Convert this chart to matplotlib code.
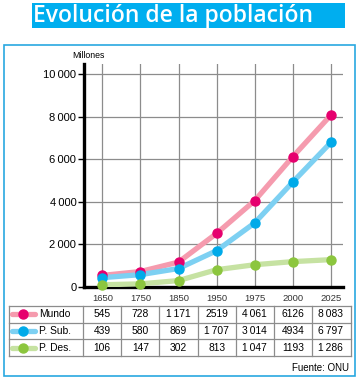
import matplotlib
matplotlib.use("Agg")
import matplotlib.pyplot as plt
from matplotlib.patches import Rectangle

# Data
years = ["1650", "1750", "1850", "1950", "1975", "2000", "2025"]
mundo = [545, 728, 1171, 2519, 4061, 6126, 8083]
p_sub = [439, 580, 869, 1707, 3014, 4934, 6797]
p_des = [106, 147, 302, 813, 1047, 1193, 1286]
series_names = ["Mundo", "P. Sub.", "P. Des."]
# table text as printed in the source
mundo_txt = ["545", "728", "1\u2009171", "2519", "4\u2009061", "6126", "8\u2009083"]
p_sub_txt = ["439", "580", "869", "1\u2009707", "3\u2009014", "4934", "6\u2009797"]
p_des_txt = ["106", "147", "302", "813", "1\u2009047", "1193", "1\u2009286"]
yticks = [0, 2000, 4000, 6000, 8000, 10000]
ytick_labels = ["0", "2\u2009000", "4\u2009000", "6\u2009000", "8\u2009000", "10\u2009000"]

dot_colors = ["#e6006e", "#00aae9", "#8cc63e"]
line_colors = ["#f59bae", "#7dd0f2", "#c6e2a2"]

W, H = 358, 380
plt.rcParams['font.family'] = ['Liberation Sans', 'DejaVu Sans']

fig = plt.figure(figsize=(W / 100, H / 100), dpi=100)

def fbox(x0, y0, x1, y1):
    # pixel box (top-left origin) -> figure rect
    return [x0 / W, 1 - y1 / H, (x1 - x0) / W, (y1 - y0) / H]

# outer frame and title bar
fig.patches.append(Rectangle((4 / W, 1 - 376 / H), 351 / W, 331 / H, transform=fig.transFigure,
                             fill=False, edgecolor="#29a8e0", lw=1.2))
fig.patches.append(Rectangle((32 / W, 1 - 28 / H), 313 / W, 25 / H, transform=fig.transFigure,
                             facecolor="#00aeef", edgecolor="none"))
fig.text(33 / W, 1 - 16.5 / H, "Evolución de la población", color="white", fontsize=16.5,
         fontweight=600, family="Open Sans", ha="left", va="center")

# category positions in pixels
X0, DX = 102.3, 38.1
def px2x(px):
    return (px - X0) / DX

ax = fig.add_axes(fbox(84, 64, 343, 287))
ax.set_xlim(px2x(84), px2x(343))
ax.set_ylim(0, 10484)
xs = list(range(len(years)))

for y in yticks[1:]:
    ax.axhline(y, color="#8c8c8c", lw=0.9, zorder=1)
for x in xs:
    ax.axvline(x, color="#8c8c8c", lw=0.9, zorder=1)

for vals, lc, dc in zip([mundo, p_sub, p_des], line_colors, dot_colors):
    ax.plot(xs, vals, color=lc, lw=3.8, zorder=3, solid_capstyle="round")
    ax.plot(xs, vals, "o", color=dc, ms=6.5, zorder=4, clip_on=False)

for s in ["top", "right"]:
    ax.spines[s].set_visible(False)
for s in ["left", "bottom"]:
    ax.spines[s].set_linewidth(2.4)
    ax.spines[s].set_color("black")
    ax.spines[s].set_zorder(2)

ax.set_yticks(yticks)
ax.set_yticklabels(ytick_labels)
ax.tick_params(axis="y", length=4, width=1, pad=1.5, labelsize=8)
ax.set_xticks(xs)
ax.set_xticklabels(years)
ax.tick_params(axis="x", length=0, pad=5, labelsize=6.8, labelcolor="#333333")

fig.text(88 / W, 1 - 55 / H, "Millones", fontsize=6.3, ha="center", va="center")

# table
tab = fig.add_axes(fbox(9, 306, 351, 356))
tab.set_xlim(px2x(9), px2x(351))
tab.set_ylim(3, 0)
tab.axis("off")
gc = "#8c8c8c"
left, right = px2x(9), px2x(351)
for r in range(4):
    tab.plot([left, right], [r, r], color=gc, lw=0.9, clip_on=False)
for c in [left] + [x - 0.5 for x in xs] + [right]:
    tab.plot([c, c], [0, 3], color=gc, lw=0.9, clip_on=False)

for r, (name, txts) in enumerate(zip(series_names, [mundo_txt, p_sub_txt, p_des_txt])):
    yc = r + 0.5
    tab.plot([px2x(12), px2x(35)], [yc, yc], color=line_colors[r], lw=3.8, solid_capstyle="round")
    tab.plot([px2x(23.5)], [yc], "o", color=dot_colors[r], ms=6.5)
    tab.text(px2x(39), yc, name, fontsize=7.4, ha="left", va="center")
    for x, t in zip(xs, txts):
        tab.text(x, yc, t, fontsize=7.4, ha="center", va="center")

fig.text(349 / W, 1 - 368 / H, "Fuente: ONU", fontsize=7, ha="right", va="center")

fig.savefig("out.png", dpi=100)
